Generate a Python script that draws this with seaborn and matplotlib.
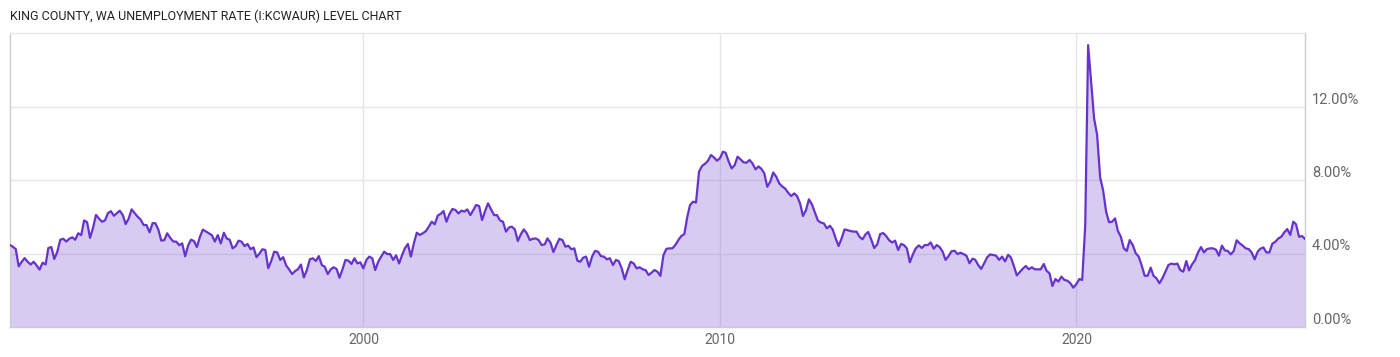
import pandas as pd
import matplotlib
matplotlib.use("Agg")
import matplotlib.pyplot as plt
import matplotlib.dates as mdates
import seaborn as sns

# Monthly King County unemployment rate (%)
rate_1990s = [
    4.46, 4.37, 4.24, 3.30, 3.55, 3.75, 3.55, 3.40, 3.55, 3.35, 3.12, 3.50,
    3.40, 4.30, 4.35, 3.70, 4.10, 4.75, 4.80, 4.65, 4.80, 4.88, 4.75, 5.10,
    5.00, 5.80, 5.70, 4.85, 5.40, 6.10, 5.90, 5.73, 5.80, 6.20, 6.30, 6.05,
    6.20, 6.33, 6.10, 5.60, 5.90, 6.40, 6.20, 6.00, 5.85, 5.55, 5.55, 5.15,
    5.65, 5.65, 5.30, 4.70, 4.73, 5.10, 4.85, 4.65, 4.65, 4.45, 4.55, 3.85,
    4.45, 4.75, 4.68, 4.35, 4.90, 5.30, 5.20, 5.10, 5.00, 4.65, 5.00, 4.55,
    5.13, 4.82, 4.75, 4.28, 4.40, 4.70, 4.64, 4.40, 4.52, 4.23, 4.33, 3.80,
    4.00, 4.23, 4.19, 3.20, 3.60, 4.10, 4.06, 3.65, 3.80, 3.35, 3.13, 2.88,
    3.05, 3.14, 3.40, 2.70, 3.10, 3.68, 3.74, 3.59, 3.86, 3.37, 3.28, 2.88,
    3.14, 3.25, 3.16, 2.68, 3.14, 3.65, 3.61, 3.43, 3.74, 3.46, 3.52, 3.19,
]
rate_2000s = [
    3.65, 3.83, 3.74, 3.10, 3.55, 3.83, 4.10, 3.97, 3.97, 3.65, 3.90, 3.46,
    3.92, 4.28, 4.52, 3.83, 4.55, 5.13, 5.01, 5.10, 5.21, 5.46, 5.73, 5.59,
    6.07, 6.15, 6.31, 5.73, 6.15, 6.42, 6.37, 6.18, 6.33, 6.28, 6.40, 6.09,
    6.37, 6.64, 6.58, 5.82, 6.31, 6.73, 6.40, 6.09, 6.09, 5.80, 5.73, 5.19,
    5.42, 5.46, 5.31, 4.68, 5.04, 5.31, 5.10, 4.73, 4.80, 4.82, 4.73, 4.46,
    4.50, 4.82, 4.59, 4.08, 4.46, 4.80, 4.73, 4.37, 4.42, 4.23, 4.28, 3.61,
    3.55, 3.77, 3.83, 3.28, 3.83, 4.14, 4.10, 3.85, 3.83, 3.68, 3.74, 3.37,
    3.65, 3.59, 3.19, 2.60, 3.10, 3.55, 3.46, 3.19, 3.25, 3.14, 3.10, 2.83,
    2.96, 3.10, 3.01, 2.78, 3.90, 4.25, 4.28, 4.28, 4.46, 4.73, 4.95, 5.05,
    6.00, 6.64, 6.82, 6.77, 8.45, 8.76, 8.88, 9.05, 9.36, 9.23, 9.05, 9.18,
]
rate_2010s = [
    9.54, 9.48, 9.00, 8.63, 8.81, 9.27, 9.12, 8.96, 8.94, 9.09, 8.90, 8.58,
    8.74, 8.61, 8.36, 7.63, 7.91, 8.41, 8.18, 7.82, 7.65, 7.53, 7.31, 7.13,
    7.27, 7.13, 6.73, 6.04, 6.36, 6.95, 6.67, 6.22, 5.79, 5.68, 5.64, 5.37,
    5.51, 5.31, 4.82, 4.41, 4.82, 5.31, 5.27, 5.22, 5.19, 5.19, 4.91, 4.77,
    5.04, 5.17, 4.75, 4.30, 4.50, 5.06, 5.11, 4.95, 4.72, 4.60, 4.70, 4.19,
    4.52, 4.46, 4.28, 3.52, 3.95, 4.28, 4.44, 4.30, 4.46, 4.46, 4.60, 4.26,
    4.46, 4.35, 4.10, 3.65, 3.86, 4.12, 4.15, 3.97, 4.04, 3.97, 3.88, 3.47,
    3.72, 3.66, 3.37, 3.16, 3.47, 3.79, 3.95, 3.92, 3.88, 3.65, 3.83, 3.57,
    3.93, 3.79, 3.32, 2.81, 2.99, 3.17, 3.32, 3.14, 3.25, 3.14, 3.14, 3.14,
    3.43, 3.07, 2.92, 2.23, 2.61, 2.47, 2.74, 2.56, 2.52, 2.38, 2.14, 2.34,
]
rate_2020s = [
    2.61, 2.56, 5.50, 15.34, 13.30, 11.35, 10.45, 8.13, 7.45, 6.28, 5.70, 5.73,
    5.91, 5.24, 4.91, 4.28, 4.14, 4.73, 4.46, 4.01, 3.83, 3.34, 2.79, 2.79,
    3.23, 2.79, 2.65, 2.38, 2.65, 3.01, 3.37, 3.45, 3.41, 3.45, 3.10, 3.01,
    3.59, 3.08, 3.41, 3.63, 4.06, 4.35, 4.06, 4.24, 4.28, 4.28, 4.21, 3.88,
    4.43, 4.17, 4.14, 3.95, 4.14, 4.72, 4.55, 4.43, 4.28, 4.24, 4.06, 3.68,
    4.10, 4.26, 4.33, 4.06, 4.06, 4.53, 4.64, 4.82, 4.91, 5.15, 5.33, 5.01,
    5.73, 5.59, 4.91, 4.95, 4.79,
]

y_ticks = [0, 4, 8, 12]
x_tick_years = [2000, 2010, 2020]
title = "KING COUNTY, WA UNEMPLOYMENT RATE (I:KCWAUR) LEVEL CHART"

rate = rate_1990s + rate_2000s + rate_2010s + rate_2020s
dates = pd.date_range("1990-01-31", periods=len(rate), freq="ME")
df = pd.DataFrame({"date": dates, "rate": rate})

sns.set_style("white")
plt.rcParams["font.family"] = ["Roboto", "DejaVu Sans"]

line_color = "#6633cc"
grid_color = "#e6e6e6"
text_gray = "#666666"

fig = plt.figure(figsize=(14, 3.57), dpi=100)
ax = fig.add_axes([10 / 1400, 30 / 357, 1295 / 1400, 294 / 357])

ax.grid(True, color=grid_color, linewidth=1)
ax.set_axisbelow(True)

ax.fill_between(df["date"], df["rate"], 0, color=line_color, alpha=0.25, linewidth=0, zorder=2)
sns.lineplot(data=df, x="date", y="rate", color=line_color, linewidth=1.6, ax=ax, zorder=3)

ax.set_xlim(df["date"].iloc[0], df["date"].iloc[-1])
ax.set_ylim(0, 16)

ax.set_xticks([mdates.date2num(pd.Timestamp(f"{y}-01-01")) for y in x_tick_years])
ax.set_xticklabels([str(y) for y in x_tick_years])
ax.set_yticks(y_ticks)
ax.set_yticklabels([f"{v:.2f}%" for v in y_ticks])
ax.yaxis.tick_right()
ax.tick_params(axis="y", length=0, pad=5, labelsize=10.5, labelcolor=text_gray)
ax.tick_params(axis="x", length=0, pad=4.5, labelsize=10, labelcolor=text_gray)
for lbl in ax.get_yticklabels():
    lbl.set_verticalalignment("bottom")

ax.set_xlabel("")
ax.set_ylabel("")

for side in ["left", "right", "bottom"]:
    ax.spines[side].set_color("#cccccc")
    ax.spines[side].set_linewidth(1)
ax.spines["top"].set_color("#e6e6e6")
ax.spines["top"].set_linewidth(1)

fig.text(10 / 1400, 1 - 16.5 / 357, title, fontsize=9, color="#222222", va="center", ha="left")

fig.savefig("out.png", dpi=100)
